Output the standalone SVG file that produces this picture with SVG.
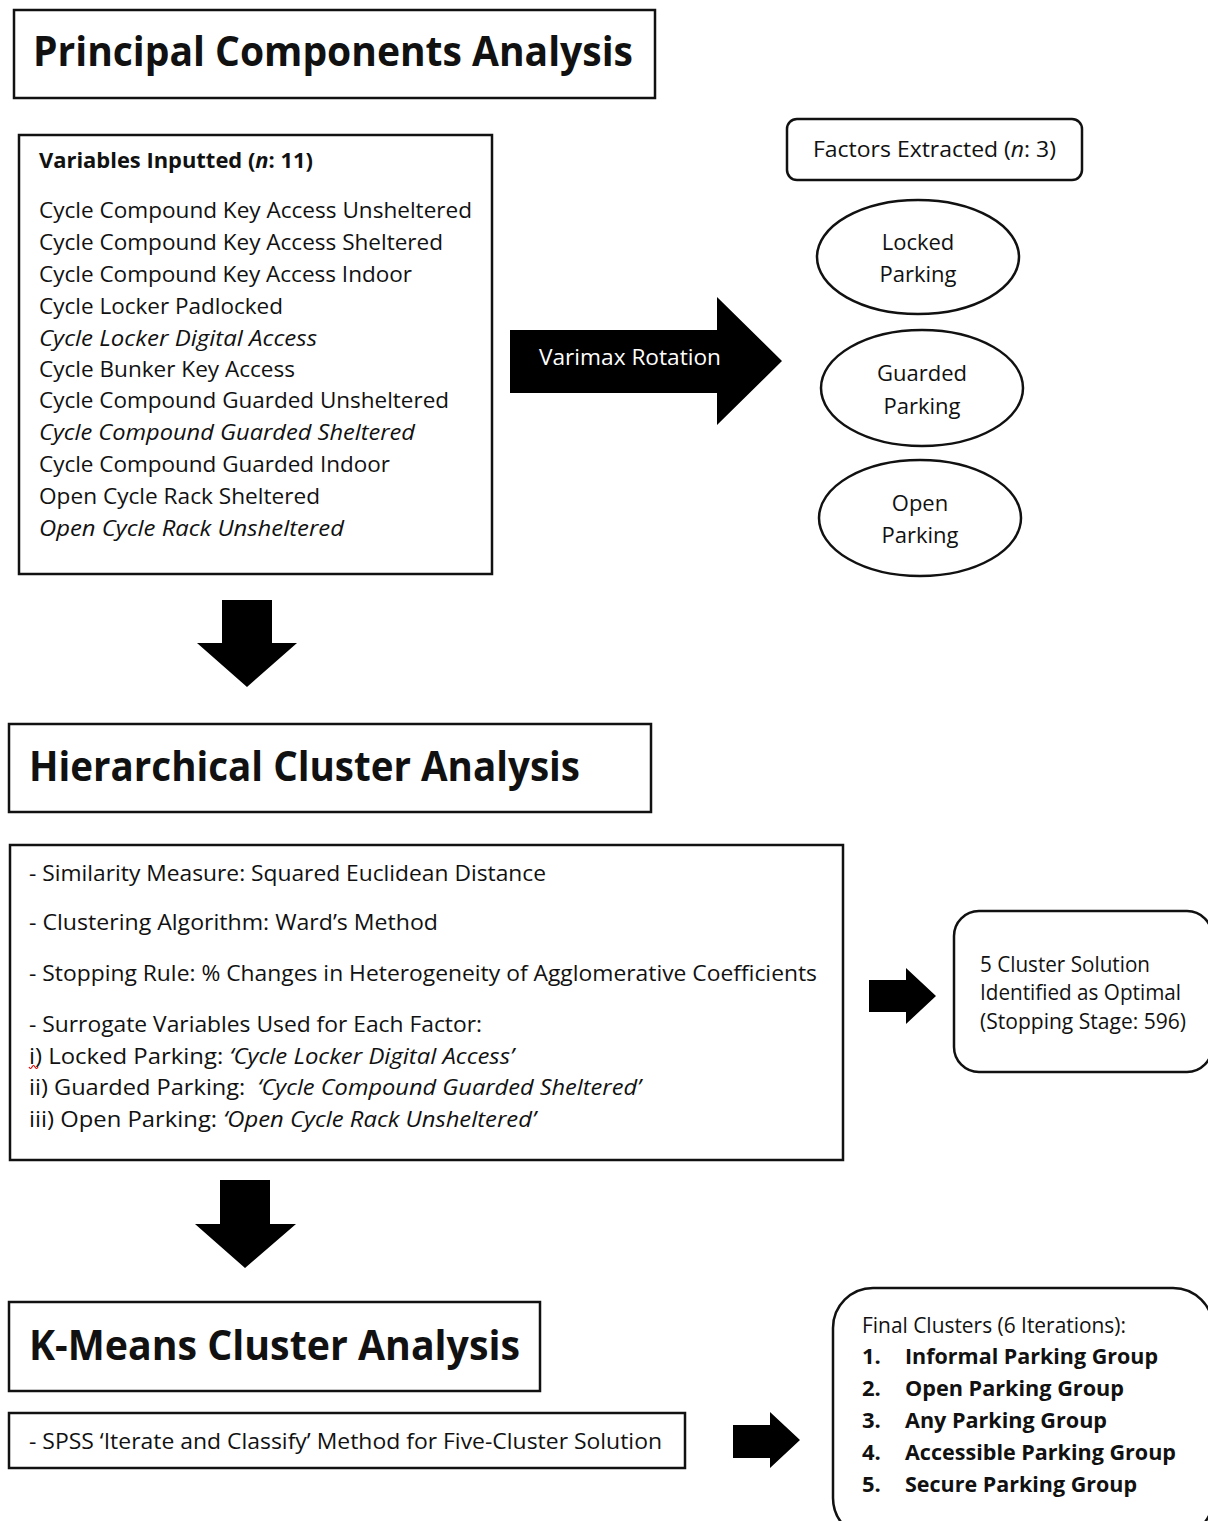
<svg xmlns="http://www.w3.org/2000/svg" width="1208" height="1521" viewBox="0 0 1208 1521">
<style>
  .box{fill:#fff;stroke:#111;stroke-width:2.5}
  .rbox{fill:#fff;stroke:#111;stroke-width:2.5}
  .arrow{fill:#000;stroke:none}
  text{font-family:"Open Sans","Noto Sans",sans-serif;fill:#111}
  .title{font-size:41px;font-weight:bold}
  .body{font-size:22px}
  .bold{font-weight:bold}
  .it{font-style:italic}
  .white{fill:#fff}
  .mid{text-anchor:middle}
  .pre{white-space:pre}
</style>
<rect width="1208" height="1521" fill="#fff"/>

<g id="connectors">
  <polygon class="arrow" points="510,330 717,330 717,297 782,361 717,425 717,393 510,393"/>
  <polygon class="arrow" points="222,600 272,600 272,643 297,643 247,687 197,643 222,643"/>
  <polygon class="arrow" points="869,980 906,980 906,968 936,996 906,1024 906,1012 869,1012"/>
  <polygon class="arrow" points="220,1180 270,1180 270,1224 296,1224 245,1268 195,1224 220,1224"/>
  <polygon class="arrow" points="733,1425 770,1425 770,1412 800,1440 770,1468 770,1458 733,1458"/>
  <text class="body white" x="539" y="365" textLength="182" lengthAdjust="spacingAndGlyphs">Varimax Rotation</text>
</g>

<g id="pca-title">
  <rect class="box" x="14" y="10" width="641" height="88"/>
  <text class="title" x="33" y="66" textLength="600" lengthAdjust="spacingAndGlyphs">Principal Components Analysis</text>
</g>

<g id="variables">
  <rect class="box" x="19" y="135" width="473" height="439"/>
  <text class="body bold" x="39" y="168" textLength="274" lengthAdjust="spacingAndGlyphs">Variables Inputted (<tspan class="it">n</tspan>: 11)</text>
  <text class="body" x="39" y="218" textLength="433" lengthAdjust="spacingAndGlyphs">Cycle Compound Key Access Unsheltered</text>
  <text class="body" x="39" y="250" textLength="404" lengthAdjust="spacingAndGlyphs">Cycle Compound Key Access Sheltered</text>
  <text class="body" x="39" y="282" textLength="373" lengthAdjust="spacingAndGlyphs">Cycle Compound Key Access Indoor</text>
  <text class="body" x="39" y="314" textLength="244" lengthAdjust="spacingAndGlyphs">Cycle Locker Padlocked</text>
  <text class="body it" x="39" y="346" textLength="278" lengthAdjust="spacingAndGlyphs">Cycle Locker Digital Access</text>
  <text class="body" x="39" y="377" textLength="256" lengthAdjust="spacingAndGlyphs">Cycle Bunker Key Access</text>
  <text class="body" x="39" y="408" textLength="410" lengthAdjust="spacingAndGlyphs">Cycle Compound Guarded Unsheltered</text>
  <text class="body it" x="39" y="440" textLength="376" lengthAdjust="spacingAndGlyphs">Cycle Compound Guarded Sheltered</text>
  <text class="body" x="39" y="472" textLength="351" lengthAdjust="spacingAndGlyphs">Cycle Compound Guarded Indoor</text>
  <text class="body" x="39" y="504" textLength="281" lengthAdjust="spacingAndGlyphs">Open Cycle Rack Sheltered</text>
  <text class="body it" x="39" y="536" textLength="305" lengthAdjust="spacingAndGlyphs">Open Cycle Rack Unsheltered</text>
</g>

<g id="factors">
  <rect class="rbox" x="787" y="119" width="295" height="61" rx="10"/>
  <text class="body" x="813" y="157" textLength="243" lengthAdjust="spacingAndGlyphs">Factors Extracted (<tspan class="it">n</tspan>: 3)</text>
</g>

<g id="locked">
  <ellipse class="box" cx="918" cy="257" rx="101" ry="57"/>
  <text class="body mid" x="918" y="250">Locked</text>
  <text class="body mid" x="918" y="282">Parking</text>
</g>
<g id="guarded">
  <ellipse class="box" cx="922" cy="388" rx="101" ry="58"/>
  <text class="body mid" x="922" y="381">Guarded</text>
  <text class="body mid" x="922" y="414">Parking</text>
</g>
<g id="open">
  <ellipse class="box" cx="920" cy="518" rx="101" ry="58"/>
  <text class="body mid" x="920" y="511">Open</text>
  <text class="body mid" x="920" y="543">Parking</text>
</g>

<g id="hca-title">
  <rect class="box" x="9" y="724" width="642" height="88"/>
  <text class="title" x="29" y="781" textLength="551" lengthAdjust="spacingAndGlyphs">Hierarchical Cluster Analysis</text>
</g>

<g id="hca">
  <rect class="box" x="10" y="845" width="833" height="315"/>
  <text class="body" x="29" y="881" textLength="517" lengthAdjust="spacingAndGlyphs">- Similarity Measure: Squared Euclidean Distance</text>
  <text class="body" x="29" y="930" textLength="409" lengthAdjust="spacingAndGlyphs">- Clustering Algorithm: Ward’s Method</text>
  <text class="body" x="29" y="981" textLength="788" lengthAdjust="spacingAndGlyphs">- Stopping Rule: % Changes in Heterogeneity of Agglomerative Coefficients</text>
  <text class="body" x="29" y="1032" textLength="453" lengthAdjust="spacingAndGlyphs">- Surrogate Variables Used for Each Factor:</text>
  <text class="body" x="29" y="1064" textLength="485" lengthAdjust="spacingAndGlyphs">i) Locked Parking: <tspan class="it">‘Cycle Locker Digital Access’</tspan></text>
  <text class="body pre" x="29" y="1095" textLength="612" lengthAdjust="spacingAndGlyphs">ii) Guarded Parking:  <tspan class="it">‘Cycle Compound Guarded Sheltered’</tspan></text>
  <text class="body" x="29" y="1127" textLength="507" lengthAdjust="spacingAndGlyphs">iii) Open Parking: <tspan class="it">‘Open Cycle Rack Unsheltered’</tspan></text>
  <path d="M29,1067 q1.5,3 3,0 t3,0 t3,0" fill="none" stroke="#d00" stroke-width="1.2"/>
</g>

<g id="solution">
  <rect class="rbox" x="954" y="911" width="258" height="161" rx="25"/>
  <text class="body" x="980" y="972" textLength="170" lengthAdjust="spacingAndGlyphs">5 Cluster Solution</text>
  <text class="body" x="980" y="1000" textLength="201" lengthAdjust="spacingAndGlyphs">Identified as Optimal</text>
  <text class="body" x="980" y="1029" textLength="206" lengthAdjust="spacingAndGlyphs">(Stopping Stage: 596)</text>
</g>

<g id="kmeans-title">
  <rect class="box" x="9" y="1302" width="531" height="89"/>
  <text class="title" x="29" y="1360" textLength="491" lengthAdjust="spacingAndGlyphs">K-Means Cluster Analysis</text>
</g>

<g id="kmeans">
  <rect class="box" x="9" y="1413" width="676" height="55"/>
  <text class="body" x="29" y="1449" textLength="633" lengthAdjust="spacingAndGlyphs">- SPSS ‘Iterate and Classify’ Method for Five-Cluster Solution</text>
</g>

<g id="final">
  <rect class="rbox" x="833" y="1288" width="380" height="250" rx="40"/>
  <text class="body" x="862" y="1333" textLength="264" lengthAdjust="spacingAndGlyphs">Final Clusters (6 Iterations):</text>
  <text class="body bold" x="862" y="1364">1.</text>
  <text class="body bold" x="905" y="1364" textLength="253" lengthAdjust="spacingAndGlyphs">Informal Parking Group</text>
  <text class="body bold" x="862" y="1396">2.</text>
  <text class="body bold" x="905" y="1396" textLength="219" lengthAdjust="spacingAndGlyphs">Open Parking Group</text>
  <text class="body bold" x="862" y="1428">3.</text>
  <text class="body bold" x="905" y="1428" textLength="202" lengthAdjust="spacingAndGlyphs">Any Parking Group</text>
  <text class="body bold" x="862" y="1460">4.</text>
  <text class="body bold" x="905" y="1460" textLength="271" lengthAdjust="spacingAndGlyphs">Accessible Parking Group</text>
  <text class="body bold" x="862" y="1492">5.</text>
  <text class="body bold" x="905" y="1492" textLength="232" lengthAdjust="spacingAndGlyphs">Secure Parking Group</text>
</g>
</svg>
